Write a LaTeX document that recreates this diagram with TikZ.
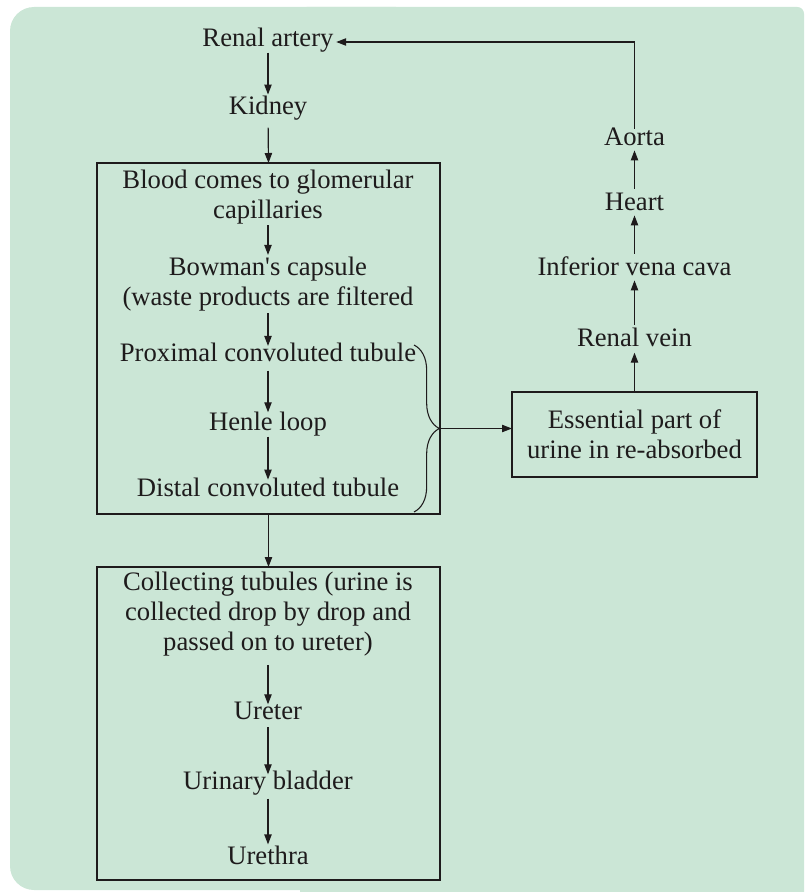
\documentclass[tikz,border=0pt]{standalone}
\usepackage{fontspec}
\setmainfont{Liberation Serif}[Ligatures=TeXOff]
\usetikzlibrary{arrows.meta,decorations.pathreplacing}
\definecolor{bgc}{RGB}{203,230,214}
\definecolor{ink}{RGB}{30,27,28}
\tikzset{
  lbl/.style={inner sep=0pt, outer sep=0pt, text=ink, font=\fontsize{20}{22.5}\selectfont, text height=0.66em, text depth=0pt},
  mlbl/.style={inner sep=0pt, outer sep=0pt, text=ink, font=\fontsize{20}{22.5}\selectfont, align=center},
  frame/.style={draw=ink, line width=1.1pt, inner sep=0pt, outer sep=0pt},
  arr/.style={draw=ink, line width=0.9pt, -{Triangle[length=7.5pt,width=5.5pt]}},
  bracestyle/.style={draw=ink, line width=0.8pt, decorate, decoration={brace, amplitude=19pt}}
}
\begin{document}
\begin{tikzpicture}[x=0.75pt, y=-0.75pt]
\useasboundingbox (0,0) rectangle (804,892);
% background
\fill[bgc, rounded corners=18pt] (10,7) rectangle (420,890);
\fill[bgc, rounded corners=5pt] (300,7) rectangle (804,905);

% left column
\node[lbl] (ra) at (268,42) {Renal artery};
\node[lbl] (kid) at (268,110) {Kidney};
\node[frame, minimum width=257.25pt, minimum height=263.25pt] (box1) at (268.5,338.5) {};
\node[mlbl] (t1) at (268,197) {Blood comes to glomerular\\capillaries};
\node[mlbl] (t2) at (268,284) {Bowman's capsule\\(waste products are filtered};
\node[lbl] (t3) at (268,357) {Proximal convoluted tubule};
\node[lbl] (t4) at (268,426) {Henle loop};
\node[lbl] (t5) at (268,492) {Distal convoluted tubule};
\node[frame, minimum width=257.25pt, minimum height=234.75pt] (box2) at (268.5,723.5) {};
\node[mlbl] (t6) at (268,614) {Collecting tubules (urine is\\collected drop by drop and\\passed on to ureter)};
\node[lbl] (t7) at (268,715) {Ureter};
\node[lbl] (t8) at (268,785) {Urinary bladder};
\node[lbl] (t9) at (268,860) {Urethra};

% right column
\node[mlbl, draw=ink, line width=1.1pt, minimum width=183.75pt, minimum height=63.75pt] (ess) at (634.5,434.5) {Essential part of\\urine in re-absorbed};
\node[lbl] (rv) at (634.5,342) {Renal vein};
\node[lbl] (ivc) at (634.5,271) {Inferior vena cava};
\node[lbl] (heart) at (634.5,206) {Heart};
\node[lbl] (aorta) at (634.5,141) {Aorta};

% arrows left
\draw[arr, shorten <=4.7pt, shorten >=8.3pt] (ra.south) -- (kid.north);
\draw[arr, shorten <=10pt] (kid.south) -- (box1.north);
\draw[arr, shorten <=1pt, shorten >=1.5pt] (t1.south) -- (t2.north);
\draw[arr, shorten <=1.5pt, shorten >=5pt] (t2.south) -- (t3.north);
\draw[arr, shorten <=7pt, shorten >=7pt] (t3.south) -- (t4.north);
\draw[arr, shorten <=4.7pt, shorten >=6pt] (t4.south) -- (t5.north);
\draw[arr] (box1.south) -- (box2.north);
\draw[arr, shorten <=6.5pt, shorten >=4.7pt] (t6.south) -- (t7.north);
\draw[arr, shorten <=6pt, shorten >=4.7pt] (t7.south) -- (t8.north);
\draw[arr, shorten <=7pt, shorten >=8.4pt] (t8.south) -- (t9.north);

% brace and link
\draw[bracestyle] (414,345) -- (414,512);
\coordinate (tip) at (440,428.5);
\draw[arr] (tip) -- (tip -| ess.west);

% arrows right
\draw[arr, shorten >=4.7pt] (ess.north) -- (rv.south);
\draw[arr, shorten <=9.75pt, shorten >=3.75pt] (rv.north) -- (ivc.south);
\draw[arr, shorten <=9.75pt, shorten >=3.75pt] (ivc.north) -- (heart.south);
\draw[arr, shorten <=9.75pt, shorten >=3.75pt] (heart.north) -- (aorta.south);
\draw[arr, shorten <=6pt, shorten >=2pt] (aorta.north) |- (ra.east);
\end{tikzpicture}
\end{document}
